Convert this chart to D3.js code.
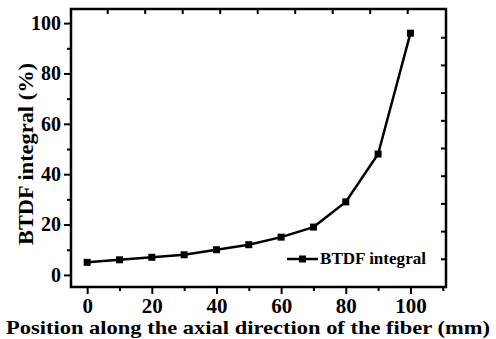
<!DOCTYPE html>
<html><head><meta charset="utf-8">
<script src="https://cdn.jsdelivr.net/npm/d3@7"></script>
<style>body{margin:0;background:#fff}svg{display:block}
svg text{font-family:"Liberation Serif","Times New Roman",Times,serif !important;font-weight:bold}</style>
</head><body>
<script>
const positions = [0, 10, 20, 30, 40, 50, 60, 70, 80, 90, 100];
const btdf = [5, 6, 7, 8, 10, 12, 15, 19, 29, 48, 96];
const xTicks = [0, 20, 40, 60, 80, 100];
const yTicks = [0, 20, 40, 60, 80, 100];
const seriesName = "BTDF integral";
const xTitle = "Position along the axial direction of the fiber (mm)";
const yTitle = "BTDF integral (%)";

const W = 496, H = 339;
const m = {l: 71, t: 9, r: 50, b: 52};
const svg = d3.select("body").append("svg").attr("width", W).attr("height", H);
const x = d3.scaleLinear().domain([-5, 111]).range([m.l, W - m.r]);
const y = d3.scaleLinear().domain([-4.8, 105.6]).range([H - m.b, m.t]);

// frame
svg.append("rect").attr("x", m.l).attr("y", m.t).attr("width", W - m.r - m.l).attr("height", H - m.b - m.t)
  .attr("fill", "none").attr("stroke", "#000").attr("stroke-width", 2.5);

// bottom axis
const xa = svg.append("g").attr("transform", `translate(0,${H - m.b})`)
  .call(d3.axisBottom(x).tickValues(xTicks).tickSize(7).tickPadding(4).tickFormat(d3.format("d")));
xa.select(".domain").remove();
xa.selectAll("line").attr("stroke-width", 2);
xa.selectAll("text").style("font-size", "21px").attr("fill", "#000");
const xm = svg.append("g").attr("transform", `translate(0,${H - m.b})`)
  .call(d3.axisBottom(x).tickValues([10, 30, 50, 70, 90, 110]).tickSize(4).tickFormat(""));
xm.select(".domain").remove(); xm.selectAll("line").attr("stroke-width", 2);

// left axis
const ya = svg.append("g").attr("transform", `translate(${m.l},0)`)
  .call(d3.axisLeft(y).tickValues(yTicks).tickSize(7).tickPadding(3).tickFormat(d3.format("d")));
ya.select(".domain").remove();
ya.selectAll("line").attr("stroke-width", 2);
ya.selectAll("text").style("font-size", "20px").attr("fill", "#000");
const ym = svg.append("g").attr("transform", `translate(${m.l},0)`)
  .call(d3.axisLeft(y).tickValues([10, 30, 50, 70, 90]).tickSize(4).tickFormat(""));
ym.select(".domain").remove(); ym.selectAll("line").attr("stroke-width", 2);

// top and right inward ticks (independent spacing as in reference)
const topX = d3.range(0, 9).map(i => 107.7 + i * 37.5);
svg.append("g").selectAll("line").data(topX).join("line")
  .attr("x1", d => d).attr("x2", d => d).attr("y1", m.t).attr("y2", m.t + 5)
  .attr("stroke", "#000").attr("stroke-width", 2);
const rightY = d3.range(0, 9).map(i => 37.7 + i * 27.7);
svg.append("g").selectAll("line").data(rightY).join("line")
  .attr("x1", W - m.r).attr("x2", W - m.r - 5).attr("y1", d => d).attr("y2", d => d)
  .attr("stroke", "#000").attr("stroke-width", 2);

// line + markers
const data = positions.map((p, i) => ({p, v: btdf[i]}));
svg.append("path").datum(data)
  .attr("d", d3.line().x(d => x(d.p)).y(d => y(d.v)))
  .attr("fill", "none").attr("stroke", "#000").attr("stroke-width", 2.5);
svg.append("g").selectAll("rect").data(data).join("rect")
  .attr("x", d => x(d.p) - 3.5).attr("y", d => y(d.v) - 3.5).attr("width", 7).attr("height", 7).attr("fill", "#000");

// legend
const ly = 259;
svg.append("line").attr("x1", 287).attr("x2", 318).attr("y1", ly).attr("y2", ly).attr("stroke", "#000").attr("stroke-width", 2.5);
svg.append("rect").attr("x", 299).attr("y", ly - 3.5).attr("width", 7).attr("height", 7).attr("fill", "#000");
svg.append("text").attr("x", 320).attr("y", ly + 5).text(seriesName).style("font-size", "16px")
  .attr("textLength", 106).attr("lengthAdjust", "spacingAndGlyphs");

// titles
svg.append("text").attr("x", 248).attr("y", 334).attr("text-anchor", "middle").text(xTitle)
  .style("font-size", "19px")
  .attr("textLength", 484).attr("lengthAdjust", "spacingAndGlyphs");
svg.append("text").attr("transform", "translate(33,154) rotate(-90)").attr("text-anchor", "middle").text(yTitle)
  .style("font-size", "20px")
  .attr("textLength", 182).attr("lengthAdjust", "spacingAndGlyphs");
</script>
</body></html>
